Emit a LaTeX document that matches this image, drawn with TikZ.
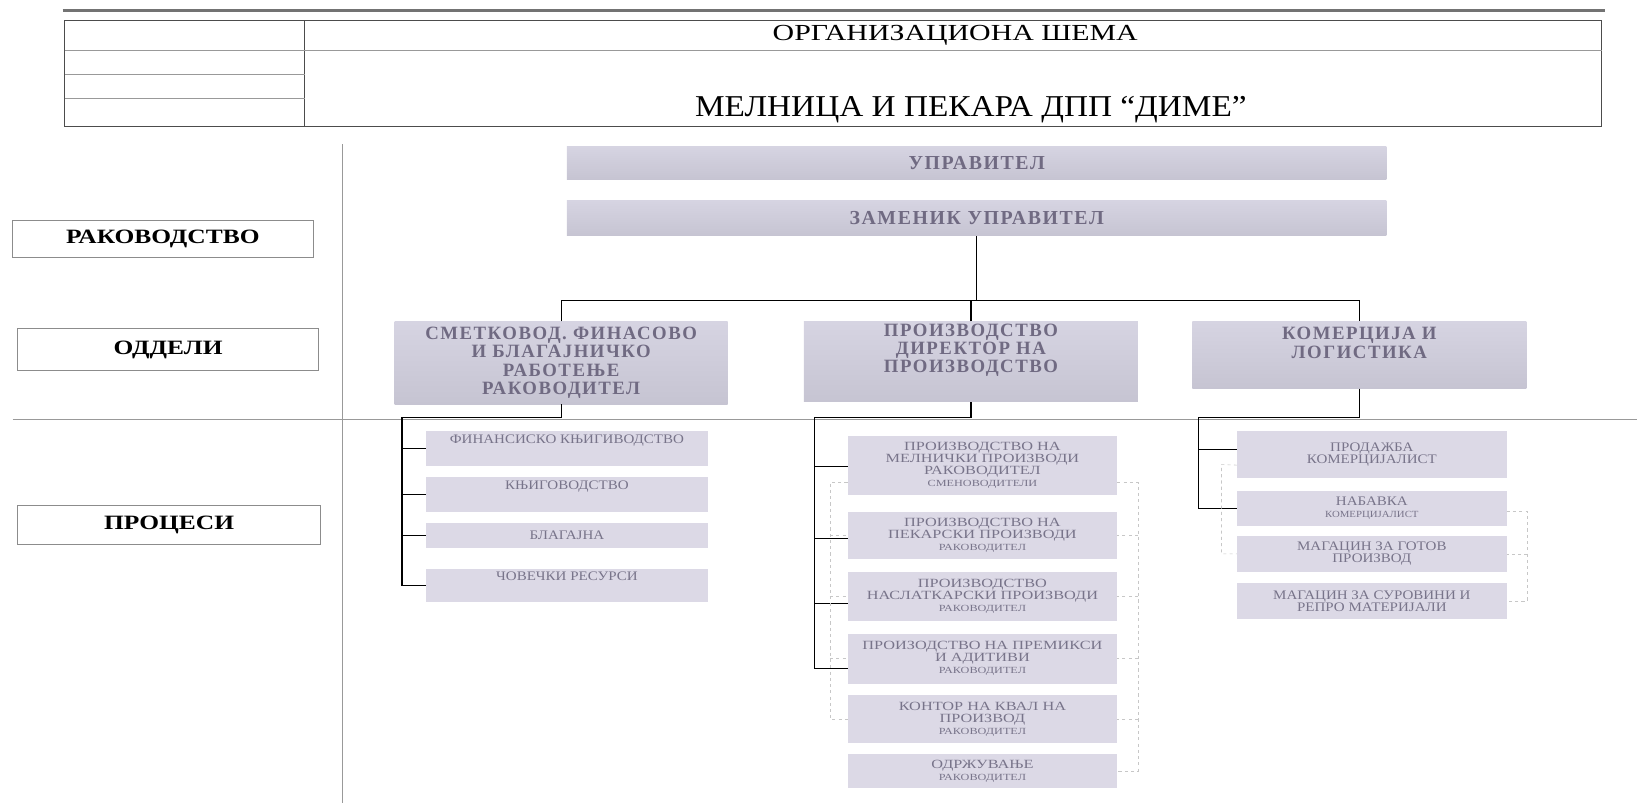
\documentclass[tikz,border=0pt]{standalone}
\usepackage{fontspec}
\setmainfont{Liberation Serif}
\newfontfamily\widef[LetterSpace=8]{Liberation Serif}
\newfontfamily\labf[FakeStretch=1.25]{Liberation Serif}
\newfontfamily\procf[FakeStretch=1.15]{Liberation Serif}
\newfontfamily\midf[FakeStretch=1.3]{Liberation Serif}
\newfontfamily\headaf[FakeStretch=1.3]{Liberation Serif}
\newfontfamily\headbf[FakeStretch=1.1]{Liberation Serif}
\definecolor{boxtop}{RGB}{214,212,226}
\definecolor{boxbot}{RGB}{198,196,210}
\definecolor{procfill}{RGB}{220,217,230}
\definecolor{deptext}{RGB}{112,106,130}
\definecolor{proctext}{RGB}{120,116,138}
\tikzset{
  labelbox/.style={draw=black!45, fill=white, line width=0.8pt, inner sep=0pt,
    font=\labf\fontsize{19.5}{22}\selectfont\bfseries},
  topbox/.style={top color=boxtop, bottom color=boxbot, text=deptext, inner sep=0pt,
    font=\widef\fontsize{19}{20}\selectfont\bfseries},
  deptbox/.style={top color=boxtop, bottom color=boxbot, text=deptext, inner sep=0pt, align=center,
    font=\widef\fontsize{18}{17.5}\selectfont\bfseries},
  procbox/.style={fill=procfill, text=proctext, inner sep=0pt, align=center,
    font=\procf\fontsize{12.5}{11.5}\selectfont},
  midbox/.style={procbox, font=\midf\fontsize{12}{11.5}\selectfont},
  conn/.style={draw=black, line width=1.2pt},
  divider/.style={draw=black!40, line width=0.8pt},
  ghost/.style={draw=black!22, dashed, line width=0.6pt},
  frame/.style={draw=black!70, line width=0.8pt}
}
\newcommand{\sm}[1]{{\fontsize{9}{10}\selectfont #1}}
\begin{document}
\begin{tikzpicture}[x=1pt,y=-1pt]
\useasboundingbox (0,0) rectangle (1568,769.2);
% header
\draw[black!55, line width=2.4pt] (60,10) -- (1537,10);
\draw[frame] (62,20) rectangle (1534,121);
\draw[frame] (292,20) -- (292,121);
\draw[divider] (62,48) -- (1534,48);
\draw[divider] (62,71) -- (292,71);
\draw[divider] (62,94) -- (292,94);
\node[font=\headaf\fontsize{22}{23}\selectfont] (title1) at (915,34) {ОРГАНИЗАЦИОНА ШЕМА};
\node[font=\headbf\fontsize{29}{31}\selectfont] (title2) at (930,105) {МЕЛНИЦА И ПЕКАРА ДПП “ДИМЕ”};
% dividers
\draw[divider] (328,138) -- (328,769);
\draw[divider] (12,402) -- (1568,402);
% left labels
\node[labelbox, minimum width=288, minimum height=36] (lab1) at (156,229) {РАКОВОДСТВО};
\node[labelbox, minimum width=288, minimum height=40] (lab2) at (161,335) {ОДДЕЛИ};
\node[labelbox, minimum width=290, minimum height=37] (lab3) at (162,502.5) {ПРОЦЕСИ};
% top boxes
\node[topbox, minimum width=785, minimum height=32] (upr) at (935.5,156) {УПРАВИТЕЛ};
\node[topbox, minimum width=785, minimum height=34] (zam) at (935.5,209) {ЗАМЕНИК УПРАВИТЕЛ};
% departments
\node[deptbox, minimum width=319, minimum height=79] (dl) at (537.5,347.5)
  {СМЕТКОВОД. ФИНАСОВО\\И БЛАГАЈНИЧКО\\РАБОТЕЊЕ\\РАКОВОДИТЕЛ};
\node[deptbox, minimum width=320, minimum height=77] (dm) at (930,346.5)
  {ПРОИЗВОДСТВО\\ДИРЕКТОР НА\\ПРОИЗВОДСТВО\\[8pt]};
\node[deptbox, minimum width=320, minimum height=64] (dr) at (1302,340)
  {КОМЕРЦИЈА И\\ЛОГИСТИКА\\[6pt]};
% processes left
\node[procbox, minimum width=270, minimum height=33] (l1) at (543,429.5) {ФИНАНСИСКО КЊИГИВОДСТВО\\[6pt]};
\node[procbox, minimum width=270, minimum height=33] (l2) at (543,473.5) {КЊИГОВОДСТВО\\[6pt]};
\node[procbox, minimum width=270, minimum height=24] (l3) at (543,513) {БЛАГАЈНА};
\node[procbox, minimum width=270, minimum height=32] (l4) at (543,561) {ЧОВЕЧКИ РЕСУРСИ\\[6pt]};
% processes middle
\node[midbox, minimum width=258, minimum height=56] (m1) at (941,446)
  {ПРОИЗВОДСТВО НА\\МЕЛНИЧКИ ПРОИЗВОДИ\\РАКОВОДИТЕЛ\\\sm{СМЕНОВОДИТЕЛИ}};
\node[midbox, minimum width=258, minimum height=45] (m2) at (941,512.5)
  {ПРОИЗВОДСТВО  НА\\ПЕКАРСКИ ПРОИЗВОДИ\\\sm{РАКОВОДИТЕЛ}};
\node[midbox, minimum width=258, minimum height=47] (m3) at (941,571.5)
  {ПРОИЗВОДСТВО\\НАСЛАТКАРСКИ ПРОИЗВОДИ\\\sm{РАКОВОДИТЕЛ}};
\node[midbox, minimum width=258, minimum height=48] (m4) at (941,631)
  {ПРОИЗОДСТВО  НА ПРЕМИКСИ\\И АДИТИВИ\\\sm{РАКОВОДИТЕЛ}};
\node[midbox, minimum width=258, minimum height=46] (m5) at (941,689)
  {КОНТОР НА КВАЛ НА\\ПРОИЗВОД\\\sm{РАКОВОДИТЕЛ}};
\node[midbox, minimum width=258, minimum height=33] (m6) at (941,738.5)
  {ОДРЖУВАЊЕ\\\sm{РАКОВОДИТЕЛ}};
% processes right
\node[procbox, minimum width=258, minimum height=45] (r1) at (1314,435.5)
  {ПРОДАЖБА\\КОМЕРЦИЈАЛИСТ};
\node[procbox, minimum width=258, minimum height=34] (r2) at (1314,487)
  {НАБАВКА\\\sm{КОМЕРЦИЈАЛИСТ}};
\node[procbox, minimum width=258, minimum height=35] (r3) at (1314,530.5)
  {МАГАЦИН ЗА ГОТОВ\\ПРОИЗВОД};
\node[procbox, minimum width=258, minimum height=35] (r4) at (1314,575.5)
  {МАГАЦИН ЗА СУРОВИНИ И\\РЕПРО МАТЕРИЈАЛИ};
% top connectors
\coordinate (bus) at (0,288);
\draw[conn] (zam.south) -- (zam.south |- bus);
\draw[conn] (dl.north) -- (dl.north |- bus) -- (dr.north |- bus) -- (dr.north);
\draw[conn] (dm.north) -- (dm.north |- bus);
% left tree
\coordinate (lsp) at (385,400);
\draw[conn] (dl.south) |- (lsp) -- (lsp |- l4.west) -- (l4.west);
\foreach \n in {l1,l2,l3} \draw[conn] (lsp |- \n.west) -- (\n.west);
% middle tree
\coordinate (msp) at (780,400);
\draw[conn] (dm.south) |- (msp) -- ([yshift=-9pt]msp |- m4.west) -- ([yshift=-9pt]m4.west);
\draw[conn] ([yshift=-1pt]msp |- m1.west) -- ([yshift=-1pt]m1.west);
\draw[conn] ([yshift=-3.5pt]msp |- m2.west) -- ([yshift=-3.5pt]m2.west);
\draw[conn] ([yshift=-6.5pt]msp |- m3.west) -- ([yshift=-6.5pt]m3.west);
% right tree
\coordinate (rsp) at (1148,400);
\draw[conn] (dr.south) |- (rsp) -- (rsp |- r2.west) -- (r2.west);
\draw[conn] ([yshift=5pt]rsp |- r1.west) -- ([yshift=5pt]r1.west);
% faint ghost connectors
\coordinate (g1) at (795,462);
\draw[ghost] ([yshift=-16pt]m1.west) -- (g1) -- (g1 |- m5.west) -- (m5.west);
\foreach \n in {m2,m3,m4} \draw[ghost] (g1 |- \n.west) -- (\n.west);
\coordinate (g2) at (1090,462);
\draw[ghost] ([yshift=-16pt]m1.east) -- (g2) -- (g2 |- m6.east) -- (m6.east);
\foreach \n in {m2,m3,m4,m5} \draw[ghost] (g2 |- \n.east) -- (\n.east);
\coordinate (g3) at (1170,445);
\draw[ghost] ([yshift=-10pt]r1.west) -- (g3) -- (g3 |- r3.west) -- (r3.west);
\coordinate (g4) at (1463,490);
\draw[ghost] ([yshift=-3pt]r2.east) -- (g4) -- (g4 |- r4.east) -- (r4.east);
\draw[ghost] (g4 |- r3.east) -- (r3.east);
\end{tikzpicture}
\end{document}
